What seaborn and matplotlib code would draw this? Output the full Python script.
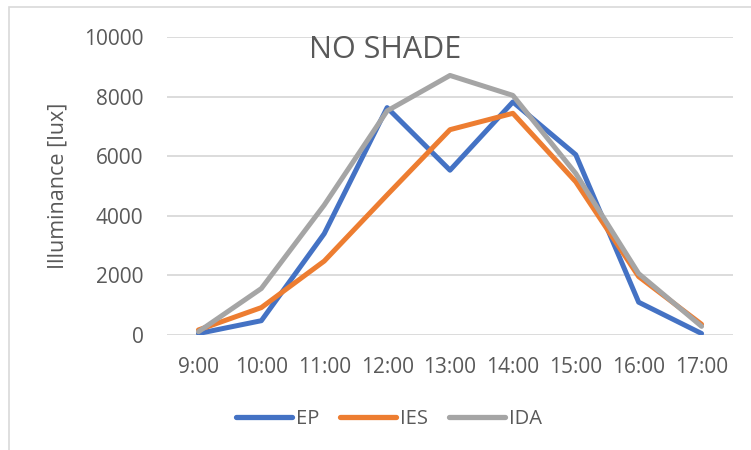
import matplotlib
matplotlib.use("Agg")
import matplotlib.pyplot as plt
import seaborn as sns
import pandas as pd
from matplotlib.patches import Rectangle

# -------------------------------
# DATA
# -------------------------------
hours = ["9:00", "10:00", "11:00", "12:00", "13:00", "14:00", "15:00", "16:00", "17:00"]
ep = [50, 480, 3400, 7630, 5530, 7820, 6050, 1100, 50]
ies = [170, 920, 2480, 4700, 6890, 7440, 5140, 1960, 360]
ida = [110, 1560, 4360, 7520, 8710, 8040, 5420, 2060, 290]

df = pd.DataFrame({"Hour": hours * 3,
                   "Illuminance": ep + ies + ida,
                   "Series": ["EP"] * 9 + ["IES"] * 9 + ["IDA"] * 9})

colors = {"EP": "#4472C4", "IES": "#ED7D31", "IDA": "#A5A5A5"}
text_col = "#595959"

sns.set_theme(style="white")
plt.rcParams["font.family"] = ["Open Sans", "DejaVu Sans"]

fig = plt.figure(figsize=(7.51, 4.5), dpi=100)
ax = fig.add_axes([167 / 751, 1 - 335 / 450, 566 / 751, 298 / 450])

sns.lineplot(data=df, x="Hour", y="Illuminance", hue="Series", palette=colors,
             linewidth=3.6, ax=ax, sort=False, legend=False)

ax.set_ylim(0, 10000)
ax.set_xlim(-0.5, 8.5)
ax.set_yticks(range(0, 10001, 2000))
ax.grid(axis="y", color="#D9D9D9", linewidth=1.3)
ax.set_axisbelow(True)
for s in ax.spines.values():
    s.set_visible(False)
ax.tick_params(axis="both", length=0, labelsize=15, colors=text_col)
ax.tick_params(axis="x", pad=16)
ax.tick_params(axis="y", pad=17)
ax.set_xlabel("")
ax.set_ylabel("Illuminance [lux]", fontsize=15.5, color=text_col, labelpad=11)

ax.text(0.385, 0.955, "NO SHADE", transform=ax.transAxes, ha="center", va="center",
        fontsize=22, color=text_col)

# legend
handles = [plt.Line2D([], [], color=colors[k], linewidth=3.8, solid_capstyle="round")
           for k in ["EP", "IES", "IDA"]]
fig.legend(handles, ["EP", "IES", "IDA"], loc="center", bbox_to_anchor=(389 / 751, 1 - 419 / 450),
           ncol=3, frameon=False, fontsize=14.5, labelcolor=text_col,
           handlelength=2.8, handletextpad=0.2, columnspacing=1.0)

# chart area border
fig.patches.append(Rectangle((9 / 751, -0.1), 1.0, 1.1 - 7.5 / 450,
                             transform=fig.transFigure, fill=False,
                             edgecolor="#D9D9D9", linewidth=1.2))

fig.savefig("out.png", dpi=100)
